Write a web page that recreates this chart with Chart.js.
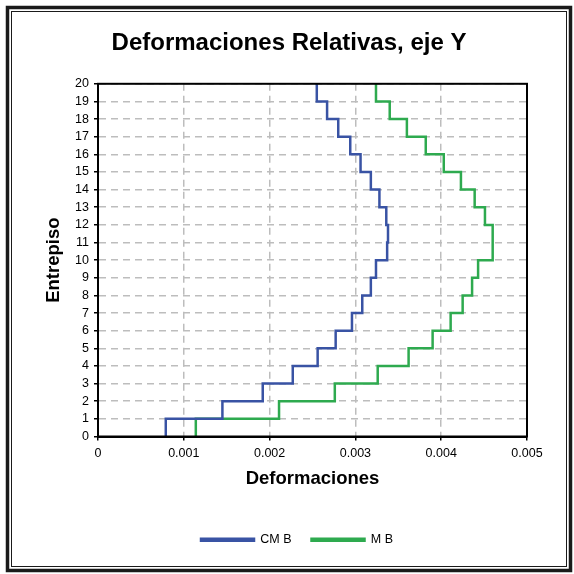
<!DOCTYPE html>
<html>
<head>
<meta charset="utf-8">
<script src="https://cdn.jsdelivr.net/npm/chart.js@4"></script>
<style>
  html, body { margin: 0; padding: 0; background: #fff; }
  #wrap { width: 574px; height: 574px; }
</style>
</head>
<body>
<div id="wrap"><canvas id="chart" width="574" height="574"></canvas></div>
<script>
// story levels (Entrepiso) 0..20, one value per story (story i spans i-1 .. i)
const stories = [1, 2, 3, 4, 5, 6, 7, 8, 9, 10, 11, 12, 13, 14, 15, 16, 17, 18, 19, 20];
const cmB = [0.00079, 0.00145, 0.00192, 0.00227, 0.00256, 0.00277, 0.00296, 0.00308, 0.00318, 0.00324,
             0.00337, 0.00338, 0.00336, 0.00328, 0.00318, 0.00306, 0.00294, 0.0028, 0.00267, 0.00255];
const mB = [0.00114, 0.00211, 0.00276, 0.00326, 0.00362, 0.0039, 0.00411, 0.00425, 0.00436, 0.00443,
            0.0046, 0.0046, 0.00451, 0.00439, 0.00423, 0.00403, 0.00382, 0.0036, 0.0034, 0.00324];
const xTicks = ["0", "0.001", "0.002", "0.003", "0.004", "0.005"];

// build step profile: vertical segment for each story
function stepPoints(vals) {
  const pts = [];
  vals.forEach((v, i) => {
    pts.push({ x: v, y: stories[i] - 1 });
    pts.push({ x: v, y: stories[i] });
  });
  return pts;
}

const FONT = "'Liberation Sans', Arial, sans-serif";

const framePlugin = {
  id: "frame",
  afterLayout(chart) {
    // legend sits a bit right of the title in the original
    if (chart.legend) {
      chart.legend.left += 8;
      chart.legend.right += 8;
    }
  },
  afterDraw(chart) {
    const { ctx, chartArea: a } = chart;
    ctx.save();
    ctx.strokeStyle = "#000";
    ctx.lineWidth = 2;
    ctx.strokeRect(a.left, a.top, a.right - a.left, a.bottom - a.top);
    // outer double border
    ctx.lineWidth = 3.5;
    ctx.strokeStyle = "#1a1a1a";
    ctx.strokeRect(7.5, 7.5, 563, 563);
    ctx.lineWidth = 1;
    ctx.strokeRect(11.5, 11.5, 555, 555);
    ctx.restore();
  },
};

new Chart(document.getElementById("chart").getContext("2d"), {
  type: "scatter",
  data: {
    datasets: [
      {
        label: "CM B",
        data: stepPoints(cmB),
        showLine: true,
        borderColor: "#3953a4",
        backgroundColor: "#3953a4",
        borderWidth: 2.5,
        pointRadius: 0,
      },
      {
        label: "M B",
        data: stepPoints(mB),
        showLine: true,
        borderColor: "#2eaa4f",
        backgroundColor: "#2eaa4f",
        borderWidth: 2.5,
        pointRadius: 0,
      },
    ],
  },
  options: {
    responsive: false,
    animation: false,
    layout: { padding: { left: 43, right: 39, top: 0, bottom: 18 } },
    plugins: {
      title: {
        display: true,
        text: "Deformaciones Relativas, eje Y",
        color: "#000",
        font: { family: FONT, size: 24, weight: "bold" },
        padding: { top: 29, bottom: 26 },
      },
      legend: {
        position: "bottom",
        labels: {
          color: "#000",
          font: { family: FONT, size: 12.5 },
          boxWidth: 53,
          boxHeight: 2,
          padding: 20,
        },
      },
      tooltip: { enabled: false },
    },
    scales: {
      x: {
        type: "linear",
        min: 0,
        max: 0.005,
        afterBuildTicks(scale) {
          scale.ticks = xTicks.map((t) => ({ value: parseFloat(t) }));
        },
        afterFit(scale) { scale.height = 77; },
        ticks: {
          color: "#000",
          font: { family: FONT, size: 12.5 },
          padding: 6,
          maxRotation: 0,
          callback: (v, i) => xTicks[i],
        },
        grid: {
          color: "#bdbdbd",
          lineWidth: 1.5,
          tickColor: "#000",
          tickLength: 4,
          tickBorderDash: [],
        },
        border: { color: "#000", width: 2, dash: [7, 5] },
        title: {
          display: true,
          text: "Deformaciones",
          color: "#000",
          font: { family: FONT, size: 18.5, weight: "bold" },
          padding: { top: 6, bottom: 23 },
        },
      },
      y: {
        type: "linear",
        min: 0,
        max: 20,
        afterFit(scale) { scale.width = 55; },
        ticks: {
          stepSize: 1,
          autoSkip: false,
          color: "#000",
          font: { family: FONT, size: 12.5 },
          padding: 5,
        },
        grid: {
          color: "#bdbdbd",
          lineWidth: 1.5,
          tickColor: "#000",
          tickLength: 4,
          tickBorderDash: [],
        },
        border: { color: "#000", width: 2, dash: [7, 5] },
        title: {
          display: true,
          text: "Entrepiso",
          color: "#000",
          font: { family: FONT, size: 18.5, weight: "bold" },
          padding: 0,
        },
      },
      // empty spacer on the right so the title sits where it does in the original
      y2: {
        type: "linear",
        position: "right",
        min: 0,
        max: 20,
        afterFit(scale) { scale.width = 8; },
        ticks: { display: false },
        grid: { display: false, drawTicks: false },
        border: { display: false },
      },
    },
  },
  plugins: [framePlugin],
});
</script>
</body>
</html>
